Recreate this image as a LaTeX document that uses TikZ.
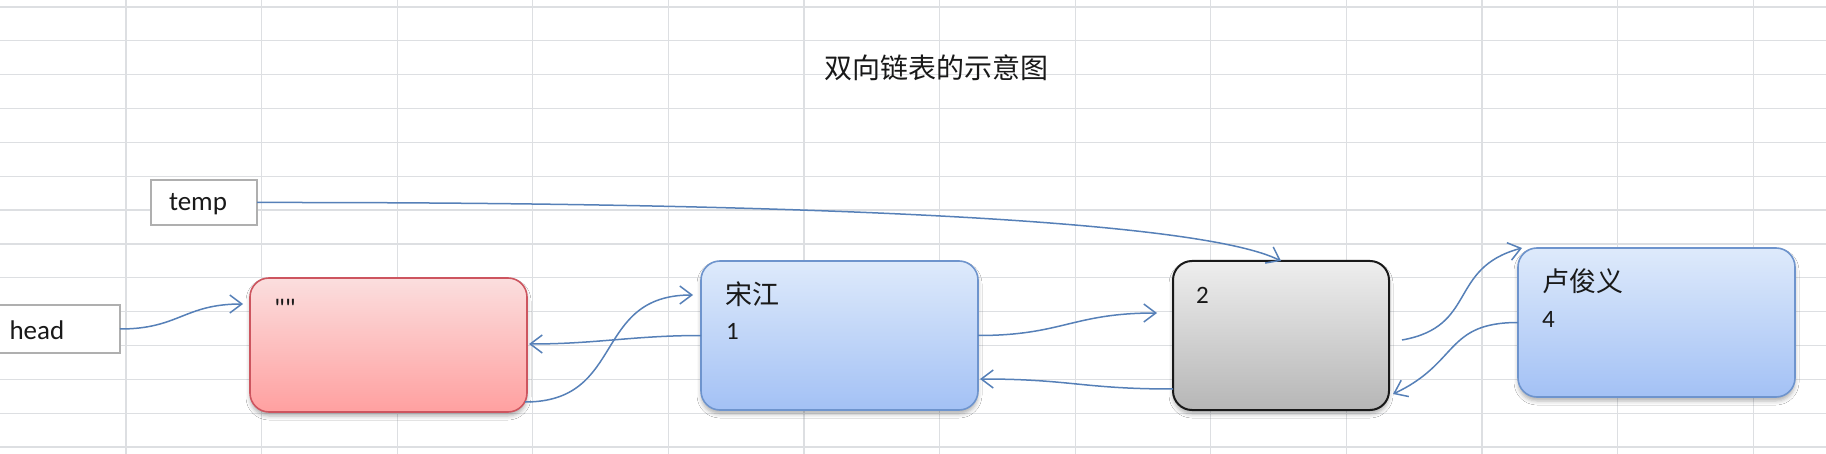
\documentclass[tikz,border=0pt]{standalone}
\usepackage{fontspec}
\newfontfamily\lat{Carlito}
\newfontfamily\cjk{Noto Sans CJK SC}
\usetikzlibrary{arrows.meta,calc,shadows.blur}
\definecolor{gridc}{RGB}{221,223,226}
\definecolor{arrc}{RGB}{86,128,184}
\definecolor{plainb}{RGB}{175,175,175}
\definecolor{redb}{RGB}{205,85,95}
\definecolor{redt}{RGB}{251,222,222}
\definecolor{redbot}{RGB}{255,160,160}
\definecolor{blueb}{RGB}{110,148,205}
\definecolor{bluet}{RGB}{222,234,251}
\definecolor{bluebot}{RGB}{163,193,245}
\definecolor{grayb}{RGB}{25,25,25}
\definecolor{grayt}{RGB}{238,238,238}
\definecolor{graybot}{RGB}{182,182,182}
\tikzset{
  every node/.style={inner sep=0pt, outer sep=0pt},
  gridline/.style={draw=gridc, line width=1.3pt},
  plainbox/.style={draw=plainb, line width=1.2pt, fill=white},
  nodebox/.style={rounded corners=19pt, line width=1.6pt,
    blur shadow={shadow xshift=0pt, shadow yshift=-4pt, shadow blur radius=4pt, shadow opacity=30}},
  redbox/.style={nodebox, draw=redb, top color=redt, bottom color=redbot},
  bluebox/.style={nodebox, draw=blueb, top color=bluet, bottom color=bluebot},
  graybox/.style={nodebox, draw=grayb, line width=2pt, top color=grayt, bottom color=graybot},
  arr/.style={draw=arrc, line width=1.5pt, -{Straight Barb[length=12pt,width=18pt]}},
  lattext/.style={font=\lat\fontsize{27}{32}\selectfont, text=black!90},
  numtext/.style={font=\lat\fontsize{25}{30}\selectfont, text=black!90},
  cjktext/.style={font=\cjk\fontsize{27}{32}\selectfont, text=black!90},
  titletext/.style={font=\cjk\fontsize{28}{32}\selectfont, text=black!90},
}
\begin{document}
\begin{tikzpicture}[x=1pt,y=-1pt]
\useasboundingbox (0,0) rectangle (1826,454);
\clip (0,0) rectangle (1826,454);
\fill[white] (0,0) rectangle (1826,454);
% spreadsheet grid
\foreach \k in {0,...,12} {
  \draw[gridline] ({126+135.6*\k},0) -- ({126+135.6*\k},454);
}
\foreach \k in {0,...,13} {
  \draw[gridline] (0,{7+33.85*\k}) -- (1826,{7+33.85*\k});
}
% title
\node[titletext, anchor=base] (title) at (936,79) {双向链表的示意图};
% pointer boxes
\node[plainbox, minimum width=106pt, minimum height=45pt] (temp) at (204,202.5) {};
\node[lattext, anchor=base west] (temptxt) at (169,211) {temp};
\node[plainbox, minimum width=125pt, minimum height=48pt] (head) at (57.5,329) {};
\node[lattext, anchor=base west] (headtxt) at (9.5,340) {head};
% list nodes
\node[redbox, minimum width=277pt, minimum height=134pt] (n0) at (388.5,345) {};
\node[lattext, anchor=base west] (n0txt) at (274,318) {""};
\node[bluebox, minimum width=277pt, minimum height=149pt] (n1) at (839.5,335.5) {};
\node[cjktext, anchor=base west] (n1name) at (725,305) {宋江};
\node[numtext, anchor=base west] (n1num) at (726,340) {1};
\node[graybox, minimum width=216pt, minimum height=149pt] (n2) at (1281,335.5) {};
\node[numtext, anchor=base west] (n2num) at (1196,304) {2};
\node[bluebox, minimum width=277pt, minimum height=149pt] (n4) at (1656.5,322.5) {};
\node[cjktext, anchor=base west] (n4name) at (1542,292) {卢俊义};
\node[numtext, anchor=base west] (n4num) at (1542,327) {4};
% connector end points
\coordinate (e1) at ($(n0.west)+(-7,-41)$);
\coordinate (s3) at ($(n0.south east)+(-2,-10)$);
\coordinate (e3) at ($(n1.west)+(-8,-40.5)$);
\coordinate (e4) at ($(n0.east)+(2,-1)$);
\coordinate (e5) at ($(n2.west)+(-16,-22.5)$);
\coordinate (s6) at ($(n2.south west)+(0,-21)$);
\coordinate (e6) at ($(n1.east)+(2,43.5)$);
\coordinate (s7) at ($(n2.east)+(13,4.5)$);
\coordinate (e7) at ($(n4.north west)+(4,0)$);
\coordinate (e8) at ($(n2.south east)+(4,-16)$);
% connectors
\draw[arr] (head.east) to[out=0,in=180,looseness=1.2] (e1);
\draw[arr] (temp.east) .. controls (800,202) and (1200,220) .. (n2.north);
\draw[arr] (s3) to[out=0,in=180,looseness=1.3] (e3);
\draw[arr] (n1.west) to[out=180,in=0] (e4);
\draw[arr] (n1.east) to[out=0,in=180,looseness=1.2] (e5);
\draw[arr] (s6) to[out=180,in=0,looseness=1.2] (e6);
\draw[arr] (s7) to[out=10,in=195,looseness=1.3] (e7);
\draw[arr] (n4.west) to[out=180,in=25,looseness=1.3] (e8);
\end{tikzpicture}
\end{document}
